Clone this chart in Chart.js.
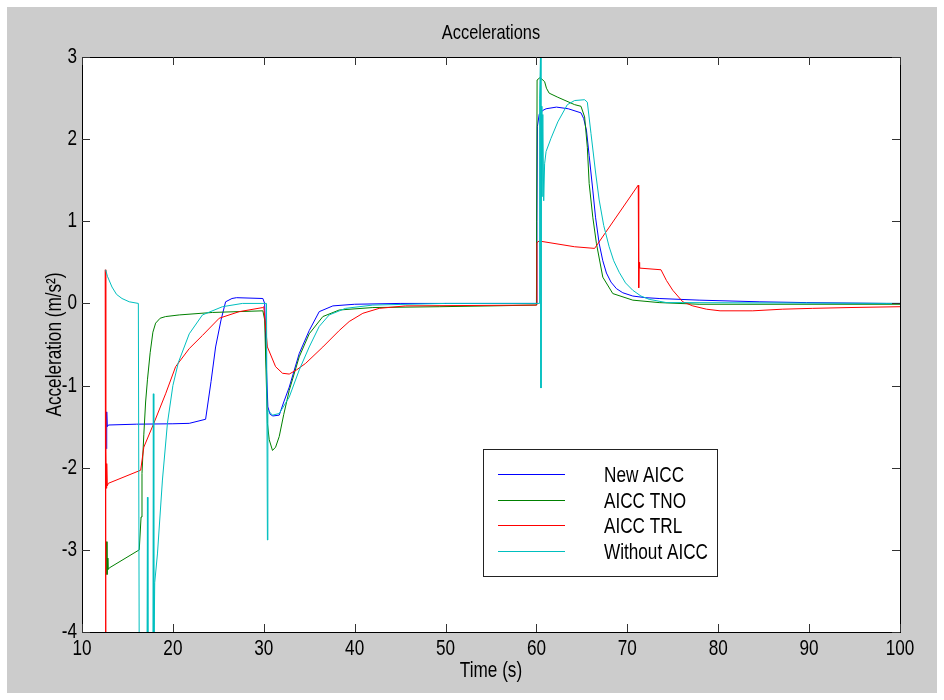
<!DOCTYPE html>
<html>
<head>
<meta charset="utf-8">
<script src="https://cdn.jsdelivr.net/npm/chart.js@4.4.1/dist/chart.umd.min.js"></script>
<style>
  body { margin: 0; background: #fff; }
</style>
</head>
<body>
<canvas id="acc" width="944" height="700"></canvas>
<script>
// series labels
const seriesNames = ["New AICC", "AICC TNO", "AICC TRL", "Without AICC"];
const chartTitle = "Accelerations";

// New AICC
const newTime = [12.7, 12.72, 12.78, 12.9, 16, 20, 21.8, 23.6, 24.2, 24.7, 25.3, 25.8, 26.5, 27, 29.9, 30.1, 30.3, 30.45, 30.7, 31.0, 31.7, 32.2, 32.8, 33.9, 35.0, 36.1, 37.6, 40, 45, 60.0, 60.05, 60.1, 60.3, 60.7, 61.06, 62.2, 63.5, 64.9, 65.2, 65.5, 65.8, 66.2, 66.5, 66.9, 67.3, 67.7, 68.2, 68.8, 69.5, 70.6, 72, 73.5, 77.9, 84.5, 89.7, 98.5, 100];
const newAcc = [-1.77, -1.32, -1.5, -1.48, -1.47, -1.465, -1.46, -1.41, -0.95, -0.53, -0.2, 0.02, 0.06, 0.07, 0.06, 0.0, -0.8, -1.26, -1.35, -1.37, -1.36, -1.2, -1.02, -0.61, -0.33, -0.10, -0.03, -0.01, 0.0, 0.0, 1.0, 2.15, 2.3, 2.35, 2.37, 2.39, 2.37, 2.32, 2.25, 2.11, 1.8, 1.38, 1.05, 0.73, 0.52, 0.37, 0.26, 0.18, 0.13, 0.09, 0.07, 0.06, 0.04, 0.02, 0.01, 0.0, 0.0];

// AICC TNO
const tnoTime = [12.7, 12.75, 12.8, 12.85, 13, 16.3, 16.5, 16.6, 16.8, 17.0, 17.2, 17.5, 17.8, 18.1, 18.6, 19.2, 20.7, 24.35, 29.9, 30.1, 30.4, 30.6, 30.96, 31.3, 31.7, 32.2, 32.8, 33.9, 35.0, 36.5, 38.3, 42, 49.3, 55, 60.0, 60.07, 60.4, 60.9, 61.1, 61.4, 62.35, 64.2, 64.9, 65.3, 65.6, 65.8, 66.2, 66.6, 67.3, 68.4, 70.6, 73.5, 77.9, 100];
const tnoAcc = [-2.9, -3.3, -3.1, -3.24, -3.22, -3.0, -2.6, -2.07, -1.6, -1.2, -0.93, -0.6, -0.35, -0.24, -0.18, -0.16, -0.14, -0.11, -0.09, -0.2, -1.46, -1.66, -1.79, -1.75, -1.62, -1.35, -1.06, -0.65, -0.37, -0.16, -0.08, -0.05, -0.04, -0.03, -0.02, 2.72, 2.75, 2.70, 2.62, 2.56, 2.51, 2.42, 2.40, 2.27, 1.9, 1.46, 1.05, 0.73, 0.32, 0.12, 0.04, 0.01, -0.01, -0.01];

// AICC TRL
const trlTime = [12.55, 12.6, 12.63, 12.68, 12.72, 12.78, 12.9, 16.46, 16.8, 17.9, 19.2, 20.3, 21.8, 23.25, 25.1, 27.3, 29.9, 30.0, 30.4, 31.3, 32.06, 32.8, 33.6, 34.6, 36.5, 38.3, 39.4, 40.9, 42.7, 45.6, 60, 60.05, 60.3, 64.2, 66.4, 71.2, 71.25, 71.3, 71.35, 73.7, 74.3, 75.0, 76.1, 77.2, 78.7, 80.2, 83.8, 87.1, 90.4, 94.5, 100];
const trlAcc = [0.41, -4.5, -1.8, -2.25, -1.95, -2.22, -2.19, -2.03, -1.75, -1.46, -1.1, -0.77, -0.55, -0.39, -0.18, -0.10, -0.05, -0.04, -0.53, -0.77, -0.85, -0.86, -0.81, -0.73, -0.53, -0.33, -0.22, -0.12, -0.06, -0.03, -0.02, 0.74, 0.76, 0.69, 0.67, 1.44, 0.19, 0.5, 0.43, 0.41, 0.28, 0.16, 0.02, -0.03, -0.07, -0.09, -0.09, -0.07, -0.06, -0.05, -0.04];

// Without AICC
const noTime = [12.6, 12.8, 13.3, 13.8, 14.4, 15.2, 16.2, 16.3, 17.15, 17.2, 17.25, 17.8, 17.85, 17.9, 18.0, 18.3, 18.85, 19.4, 20.0, 20.6, 21.8, 23.25, 25.45, 27.65, 30.3, 30.4, 30.45, 30.96, 31.7, 32.8, 33.9, 35.0, 36.1, 37.2, 39.0, 42, 50, 60.3, 60.35, 60.45, 60.5, 60.55, 60.6, 60.7, 60.8, 60.9, 61.06, 61.6, 62.35, 63.4, 64.2, 65.3, 65.6, 66.0, 66.5, 66.9, 67.4, 68.0, 68.5, 69.1, 69.8, 70.6, 71.5, 72.4, 74.3, 76.1, 100];
const noAcc = [0.41, 0.33, 0.20, 0.11, 0.06, 0.02, 0.0, -4.5, -4.5, -2.36, -4.5, -4.5, -1.1, -4.5, -3.4, -3.05, -2.15, -1.46, -1.0, -0.72, -0.37, -0.14, -0.04, 0.0, 0.0, -2.88, -1.3, -1.36, -1.34, -1.14, -0.81, -0.53, -0.28, -0.14, -0.06, -0.02, 0.0, 0.0, 2.5, 3.05, -1.03, 2.4, 1.3, 2.3, 1.25, 1.7, 1.85, 2.01, 2.21, 2.42, 2.47, 2.48, 2.45, 2.07, 1.6, 1.26, 0.95, 0.69, 0.52, 0.38, 0.25, 0.16, 0.09, 0.05, 0.01, 0.01, 0.0];

const xTicks = [10, 20, 30, 40, 50, 60, 70, 80, 90, 100];
const yTicks = [-4, -3, -2, -1, 0, 1, 2, 3];

const toPoints = (t, v) => t.map((x, i) => ({ x: x, y: v[i] }));

const family = "'Liberation Sans', Arial, sans-serif";
const font22 = { family: family, size: 22, weight: 'normal' };

// no narrow face installed: squeeze every label horizontally like the old Helvetica Narrow look
const narrowText = {
    id: 'narrowText',
    beforeDraw(chart) {
        const ctx = chart.ctx;
        if (ctx._narrowed) return;
        const orig = ctx.fillText.bind(ctx);
        ctx.fillText = function(text, x, y) {
            this.save();
            this.translate(x, y);
            this.scale(0.78, 1);
            orig(text, 0, 0);
            this.restore();
        };
        ctx._narrowed = true;
    }
};

const matlabFrame = {
    id: 'matlabFrame',
    beforeDraw(chart) {
        const { ctx, chartArea: a } = chart;
        ctx.save();
        ctx.fillStyle = '#ffffff';
        ctx.fillRect(0, 0, chart.width, chart.height);
        ctx.fillStyle = '#cccccc';
        ctx.fillRect(7, 7, chart.width - 14, chart.height - 14);
        ctx.fillStyle = '#ffffff';
        ctx.fillRect(a.left, a.top, a.right - a.left, a.bottom - a.top);
        ctx.restore();
    },
    afterDraw(chart) {
        const { ctx, chartArea: a } = chart;
        const xs = chart.scales.x, ys = chart.scales.y;
        ctx.save();
        ctx.strokeStyle = '#000000';
        ctx.lineWidth = 1;
        ctx.strokeRect(Math.round(a.left) + 0.5, Math.round(a.top) + 0.5,
            Math.round(a.right - a.left), Math.round(a.bottom - a.top));

        // inward ticks on all four sides
        ctx.strokeStyle = '#333333';
        ctx.beginPath();
        xTicks.forEach(v => {
            const px = Math.round(xs.getPixelForValue(v)) + 0.5;
            ctx.moveTo(px, a.bottom); ctx.lineTo(px, a.bottom - 8);
            ctx.moveTo(px, a.top); ctx.lineTo(px, a.top + 8);
        });
        yTicks.forEach(v => {
            const py = Math.round(ys.getPixelForValue(v)) + 0.5;
            ctx.moveTo(a.left, py); ctx.lineTo(a.left + 8, py);
            ctx.moveTo(a.right, py); ctx.lineTo(a.right - 8, py);
        });
        ctx.stroke();

        // title, centred over the axes box
        ctx.font = '21px ' + family;
        ctx.fillStyle = '#000000';
        ctx.textAlign = 'center';
        ctx.textBaseline = 'middle';
        ctx.fillText(chartTitle, (a.left + a.right) / 2, 33);

        // legend box
        const L = { left: 483, top: 449, right: 717, bottom: 576 };
        ctx.fillStyle = '#ffffff';
        ctx.fillRect(L.left, L.top, L.right - L.left, L.bottom - L.top);
        ctx.strokeStyle = '#222222';
        ctx.strokeRect(L.left + 0.5, L.top + 0.5, L.right - L.left, L.bottom - L.top);
        ctx.font = '22px ' + family;
        ctx.textAlign = 'left';
        chart.data.datasets.forEach((ds, i) => {
            const y = Math.round(474 + i * 25.7) + 0.5;
            ctx.strokeStyle = ds.borderColor;
            ctx.beginPath();
            ctx.moveTo(498, y); ctx.lineTo(565, y);
            ctx.stroke();
            ctx.fillStyle = '#000000';
            ctx.fillText(ds.label, 604, y + 1);
        });
        ctx.restore();
    }
};

new Chart(document.getElementById('acc'), {
    type: 'line',
    data: {
        datasets: [
            { label: seriesNames[0], data: toPoints(newTime, newAcc), borderColor: '#0000ff', order: 3 },
            { label: seriesNames[1], data: toPoints(tnoTime, tnoAcc), borderColor: '#008000', order: 2 },
            { label: seriesNames[2], data: toPoints(trlTime, trlAcc), borderColor: '#ff0000', order: 1 },
            { label: seriesNames[3], data: toPoints(noTime, noAcc), borderColor: '#00bfbf', order: 0 }
        ]
    },
    options: {
        responsive: false,
        animation: false,
        clip: 0,
        elements: {
            line: { borderWidth: 1, tension: 0 },
            point: { radius: 0 }
        },
        layout: { padding: { left: 0, right: 44, top: 57, bottom: 0 } },
        plugins: {
            legend: { display: false },
            tooltip: { enabled: false },
            title: { display: false }
        },
        scales: {
            x: {
                type: 'linear',
                min: 10, max: 100,
                afterBuildTicks: s => { s.ticks = xTicks.map(v => ({ value: v })); },
                afterFit: s => { s.height = 68; },
                grid: { display: false, drawTicks: false },
                border: { display: false },
                ticks: { color: '#000', padding: 4, maxRotation: 0, font: font22 },
                title: {
                    display: true, text: 'Time (s)', color: '#000',
                    font: font22,
                    padding: { top: 0, bottom: 16 }
                }
            },
            y: {
                min: -4, max: 3,
                afterBuildTicks: s => { s.ticks = yTicks.map(v => ({ value: v })); },
                afterFit: s => { s.width = 82; },
                grid: { display: false, drawTicks: false },
                border: { display: false },
                ticks: { color: '#000', padding: 5, font: font22 },
                title: {
                    display: true, text: 'Acceleration (m/s²)', color: '#000',
                    font: font22,
                    padding: { top: 42, bottom: 0 }
                }
            }
        }
    },
    plugins: [narrowText, matlabFrame]
});
</script>
</body>
</html>
